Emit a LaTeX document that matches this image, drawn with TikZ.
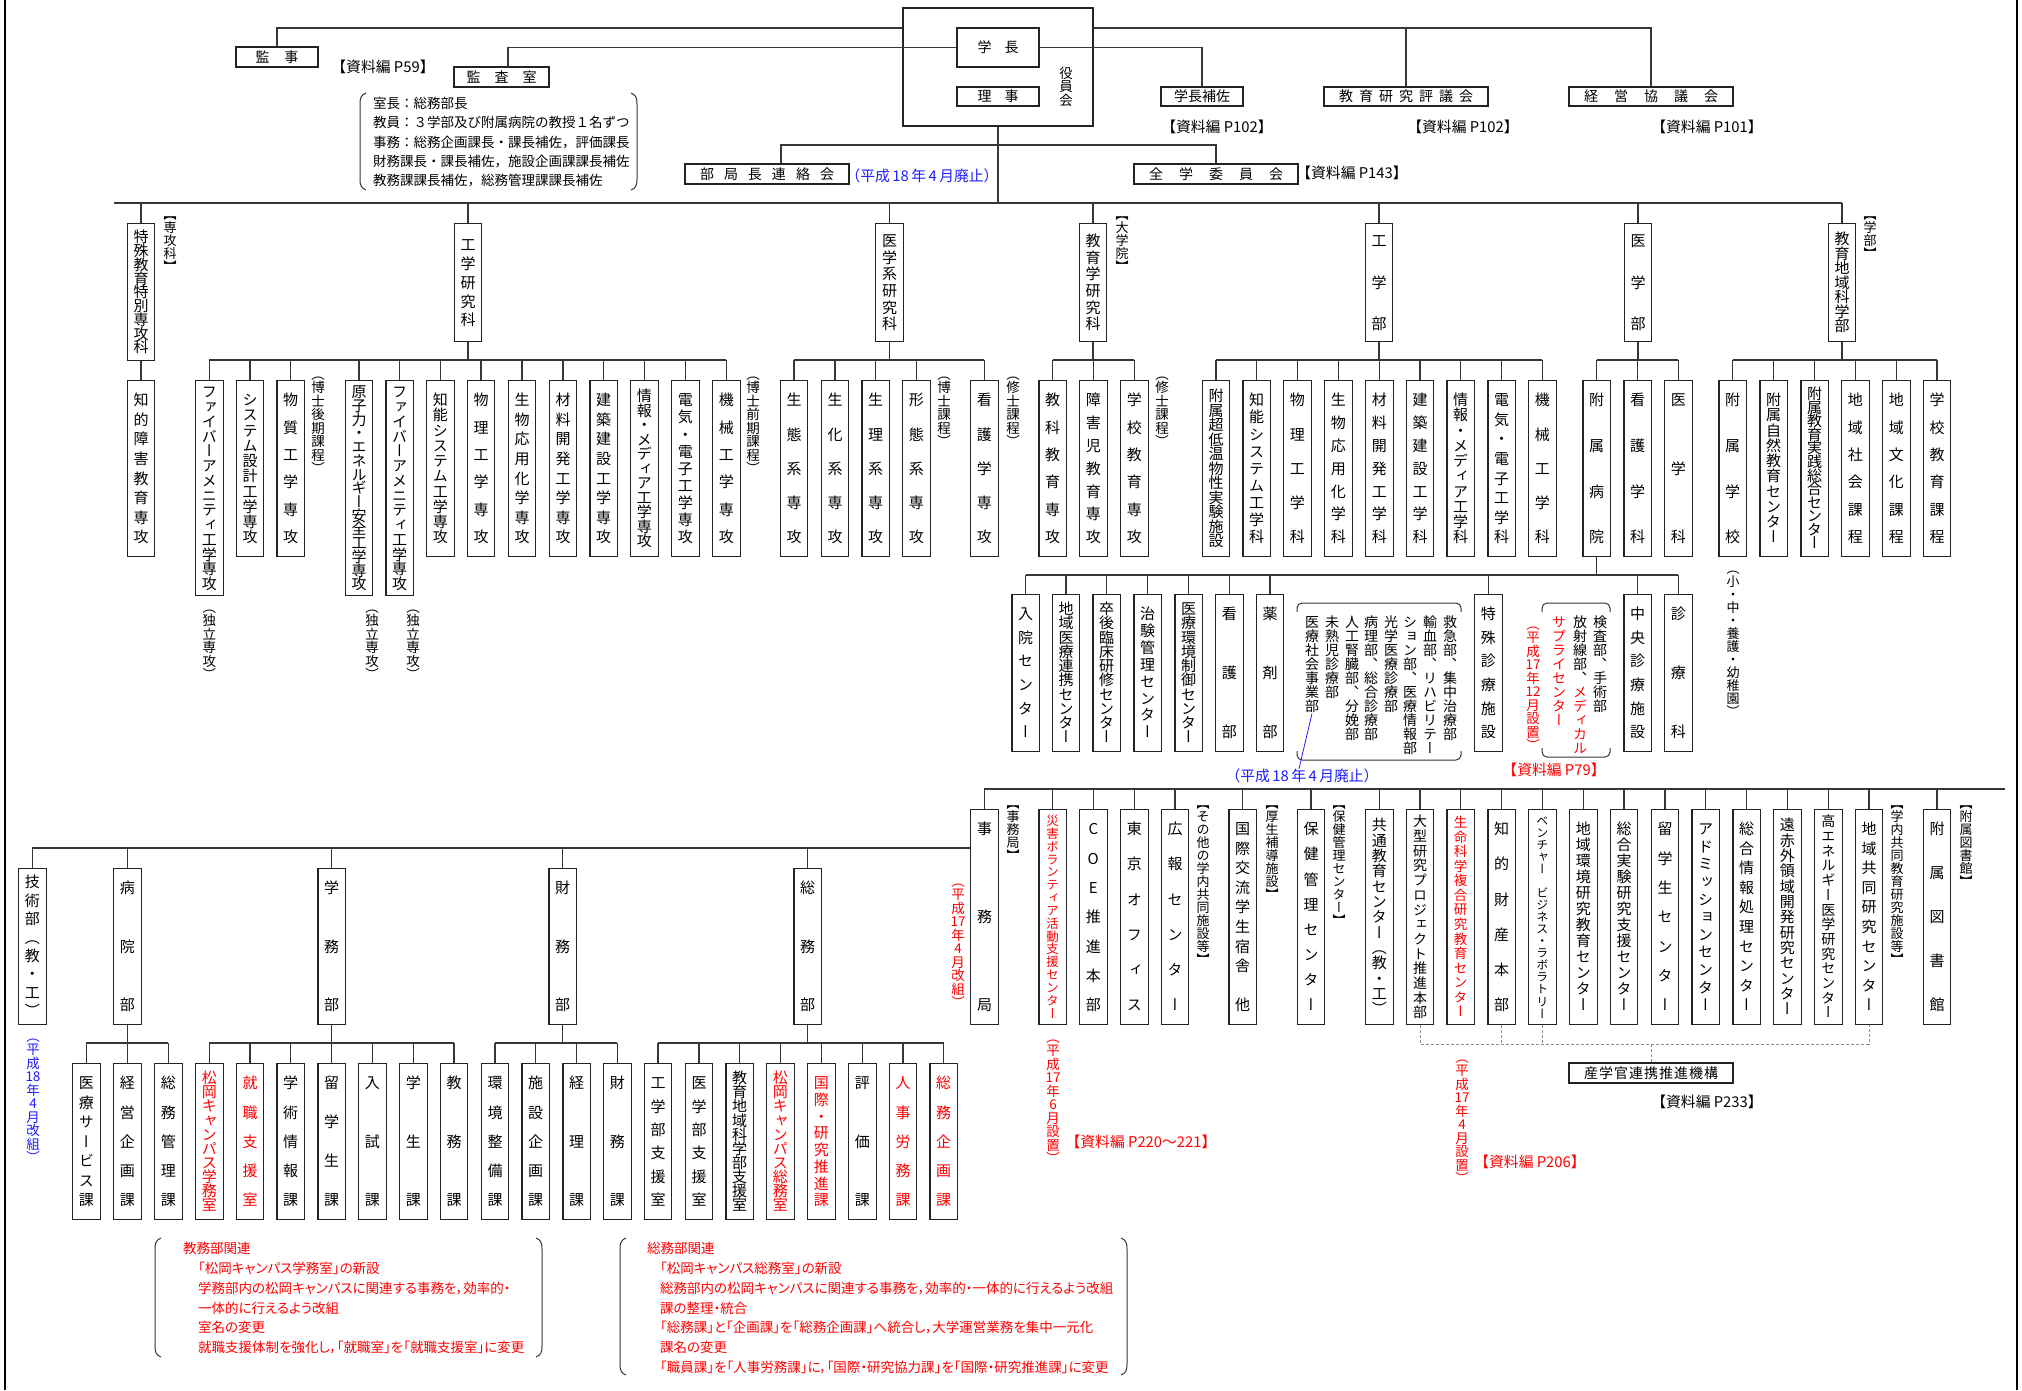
\documentclass[tikz,border=0pt]{standalone}
\usepackage{fontspec}
\setmainfont{Noto Sans CJK JP}
\newfontfamily\vfont[RawFeature=+vert]{Noto Sans CJK JP}
\newfontfamily\pfont[RawFeature=+palt]{Noto Sans CJK JP}
\usetikzlibrary{calc}

\definecolor{redc}{RGB}{255,0,0}
\definecolor{bluec}{RGB}{30,30,255}
\definecolor{linec}{RGB}{55,55,55}
\definecolor{boxc}{RGB}{35,35,35}

\newdimen\vpaddim
\newcommand\vtcell[1]{\hbox to 1em{\hss\vrule height .88em depth .12em width 0pt\smash{#1}\hss}}
\newcommand\vtgap{\vskip 0pt plus 1fill minus 2pt\relax}
\newcommand\R{\color{redc}}

\ExplSyntaxOn
\seq_new:N \l_vt_seq
\NewDocumentCommand \VT { m m } {
  \seq_clear:N \l_vt_seq
  \tl_map_inline:nn {#2} { \seq_put_right:Nn \l_vt_seq { \vtcell {##1} } }
  \vbox_to_ht:nn { #1pt - 2\vpaddim } { \offinterlineskip \seq_use:Nn \l_vt_seq { \vtgap } \kern 0pt }
}
\NewDocumentCommand \VTn { m } {
  \seq_clear:N \l_vt_seq
  \tl_map_inline:nn {#1} { \seq_put_right:Nn \l_vt_seq { \vtcell {##1} } }
  \vbox:n { \offinterlineskip \seq_use:Nn \l_vt_seq { } \kern 0pt }
}
\NewDocumentCommand \HS { m m } {
  \seq_clear:N \l_vt_seq
  \tl_map_inline:nn {#2} { \seq_put_right:Nn \l_vt_seq { ##1 } }
  \seq_use:Nn \l_vt_seq { \hspace{#1} }
}
\ExplSyntaxOff

\tikzset{
  vpad/.code={\vpaddim=#1\relax\pgfkeysalso{inner ysep=#1}},
  fs/.style={font={\vfont\fontsize{#1}{#1}\selectfont}},
  vb/.style={draw=boxc, line width=1.1pt, anchor=north, inner xsep=0pt, minimum width=27.5pt, fs=15, vpad=12pt},
  vl/.style={anchor=north, inner sep=0pt, fs=13.5},
  hb/.style={draw=boxc, line width=1.1pt, inner sep=0pt, minimum height=20pt, font={\fontsize{14}{14}\selectfont}},
  lab/.style={inner sep=0pt, font={\fontsize{14.8}{14.8}\selectfont}},
  note/.style={anchor=north west, inner sep=0pt, align=left, text=redc, font={\pfont\fontsize{13.5}{19.7}\selectfont}},
  conn/.style={draw=linec, line width=1.2pt},
  dsh/.style={draw=black!45, line width=0.8pt, dash pattern=on 3pt off 2pt},
  brk/.style={draw=black!80, line width=1pt},
}

\newcommand\VB[6][]{\node[vb,#1] (#2) at (#3,#4) {\VT{#5}{#6}};}
\newcommand\VL[5][]{\node[vl,#1] (#2) at (#3,#4) {\VTn{#5}};}
\newcommand\lparen[3]{\draw[brk] ({#1+6},{#2}) .. controls ({#1+1},{#2+2}) and ({#1},{#2+5}) .. ({#1},{#2+11}) -- ({#1},{#3-11}) .. controls ({#1},{#3-5}) and ({#1+1},{#3-2}) .. ({#1+6},{#3});}
\newcommand\rparen[3]{\draw[brk] ({#1-6},{#2}) .. controls ({#1-1},{#2+2}) and ({#1},{#2+5}) .. ({#1},{#2+11}) -- ({#1},{#3-11}) .. controls ({#1},{#3-5}) and ({#1-1},{#3-2}) .. ({#1-6},{#3});}

\begin{document}
\begin{tikzpicture}[x=1pt,y=-1pt]
\useasboundingbox (0,0) rectangle (2022,1390);
\draw[line width=2pt] (5,0) -- (5,1390);
\draw[line width=2pt] (2017,0) -- (2017,1390);

\coordinate (busA) at (0,28);
\coordinate (busB) at (0,145);
\coordinate (bus2) at (0,203);
\coordinate (bus2L) at (114,203);
\coordinate (bus3) at (0,360);
\coordinate (bus4) at (0,575);
\coordinate (bus5) at (0,789);
\coordinate (bus5R) at (2005,789);
\coordinate (bus6) at (0,848);
\coordinate (bus7) at (0,1043);
\coordinate (busD) at (0,1044);

% ---------- top ----------
\node[hb, minimum width=190pt, minimum height=118pt] (yakuin) at (998,67) {};
\node[hb, minimum width=82pt, minimum height=39pt] (gakucho) at (998,47.5) {\HS{13pt}{学長}};
\node[hb, minimum width=82pt, minimum height=19pt] (riji) at (998,96.5) {\HS{13pt}{理事}};
\VL{yakuinlab}{1066}{66}{役員会}
\node[hb, minimum width=82pt] (kanji) at (277,57) {\HS{15pt}{監事}};
\node[hb, minimum width=95pt] (kansa) at (501.5,77) {\HS{14pt}{監査室}};
\node[lab] (p59) at (383,67) {【資料編 P59】};
\node[hb, minimum width=82pt, minimum height=19pt] (hosa) at (1202,96.5) {学長補佐};
\node[hb, minimum width=164pt, minimum height=19pt] (hyogi) at (1406,96.5) {\HS{6pt}{教育研究評議会}};
\node[hb, minimum width=164pt, minimum height=19pt] (keiei) at (1651,96.5) {\HS{16pt}{経営協議会}};
\node[lab] (p102a) at (1217,127) {【資料編 P102】};
\node[lab] (p102b) at (1463,127) {【資料編 P102】};
\node[lab] (p101) at (1707,127) {【資料編 P101】};
\node[hb, minimum width=164pt] (bukyoku) at (767,174) {\HS{10pt}{部局長連絡会}};
\node[lab, text=bluec] (haishi1) at (922,176) {（平成\,18\,年\,4\,月廃止）};
\node[hb, minimum width=164pt] (zengaku) at (1216,174) {\HS{16pt}{全学委員会}};
\node[lab] (p143) at (1352,173) {【資料編 P143】};

\node[anchor=north west, inner sep=0pt, align=left, font={\fontsize{13.5}{19.3}\selectfont}] (knote) at (373,97) {室長：総務部長\\教員：３学部及び附属病院の教授１名ずつ\\事務：総務企画課長・課長補佐，評価課長\\財務課長・課長補佐，施設企画課課長補佐\\教務課課長補佐，総務管理課課長補佐};
\lparen{360}{93}{190}
\rparen{637}{93}{190}

% ---------- level 2 ----------
\VB[vpad=6pt]{tok}{141}{223}{137}{特殊教育特別専攻科}
\VB[vpad=14pt]{kken}{468}{223}{118}{工学研究科}
\VB[vpad=10pt]{iken}{889.5}{223}{118}{医学系研究科}
\VB[vpad=10pt]{eken}{1093}{223}{118}{教育学研究科}
\VB[vpad=10pt]{kgb}{1379}{223}{118}{工学部}
\VB[vpad=10pt]{igb}{1638}{223}{118}{医学部}
\VB[vpad=8pt]{egb}{1842}{223}{118}{教育地域科学部}
\VL[fs=13]{lsenkou}{170}{208}{【専攻科】}
\VL[fs=13]{ldaigakuin}{1122}{208}{【大学院】}
\VL[fs=13]{lgakubu}{1870}{208}{【学部】}

% ---------- level 3 ----------
\VB{t1}{141}{380}{176}{知的障害教育専攻}
\VB[vpad=4pt]{k1}{209.3}{380}{215}{ファイバーアメニティ工学専攻}
\VB{k2}{250}{380}{176}{システム設計工学専攻}
\VB{k3}{290.7}{380}{176}{物質工学専攻}
\VB[vpad=4pt]{k4}{359}{380}{215}{原子力・エネルギー安全工学専攻}
\VB[vpad=4pt]{k5}{399.7}{380}{215}{ファイバーアメニティ工学専攻}
\VB{k6}{440.3}{380}{176}{知能システム工学専攻}
\VB{k7}{481}{380}{176}{物理工学専攻}
\VB{k8}{522}{380}{176}{生物応用化学専攻}
\VB{k9}{563}{380}{176}{材料開発工学専攻}
\VB{k10}{603.7}{380}{176}{建築建設工学専攻}
\VB[vpad=8pt]{k11}{644.3}{380}{176}{情報・メディア工学専攻}
\VB{k12}{685.3}{380}{176}{電気・電子工学専攻}
\VB{k13}{726.3}{380}{176}{機械工学専攻}
\VB{m1}{794}{380}{176}{生態系専攻}
\VB{m2}{835}{380}{176}{生化系専攻}
\VB{m3}{875.7}{380}{176}{生理系専攻}
\VB{m4}{916.3}{380}{176}{形態系専攻}
\VB{m5}{984.3}{380}{176}{看護学専攻}
\VB{e1}{1052.7}{380}{176}{教科教育専攻}
\VB{e2}{1093.3}{380}{176}{障害児教育専攻}
\VB{e3}{1134.3}{380}{176}{学校教育専攻}
\VB[vpad=8pt]{g1}{1216}{380}{176}{附属超低温物性実験施設}
\VB{g2}{1256.7}{380}{176}{知能システム工学科}
\VB{g3}{1297.3}{380}{176}{物理工学科}
\VB{g4}{1338.3}{380}{176}{生物応用化学科}
\VB{g5}{1379.3}{380}{176}{材料開発工学科}
\VB{g6}{1420}{380}{176}{建築建設工学科}
\VB{g7}{1460.7}{380}{176}{情報・メディア工学科}
\VB{g8}{1501.7}{380}{176}{電気・電子工学科}
\VB{g9}{1542.3}{380}{176}{機械工学科}
\VB{h1}{1596.7}{380}{176}{附属病院}
\VB{h2}{1637.7}{380}{176}{看護学科}
\VB{h3}{1678.3}{380}{176}{医学科}
\VB{s1}{1732.7}{380}{176}{附属学校}
\VB{s2}{1773.7}{380}{176}{附属自然教育センター}
\VB[vpad=6pt]{s3}{1814.7}{380}{176}{附属教育実践総合センター}
\VB{s4}{1855.3}{380}{176}{地域社会課程}
\VB{s5}{1896.3}{380}{176}{地域文化課程}
\VB{s6}{1937}{380}{176}{学校教育課程}

\VL{lhakukoki}{318}{367}{（博士後期課程）}
\VL{ldok1}{209.3}{600}{（独立専攻）}
\VL{ldok2}{372}{600}{（独立専攻）}
\VL{ldok3}{413}{600}{（独立専攻）}
\VL{lhakuzen}{753}{367}{（博士前期課程）}
\VL{lhaku}{944}{367}{（博士課程）}
\VL{lshu1}{1013}{367}{（修士課程）}
\VL{lshu2}{1162}{367}{（修士課程）}
\VL[fs=13]{lfuzoku}{1733}{562}{（小・中・養護・幼稚園）}

% ---------- level 4 ----------
\VB{b1}{1025.7}{594}{157}{入院センター}
\VB[vpad=7pt]{b2}{1066}{594}{157}{地域医療連携センター}
\VB[vpad=7pt]{b3}{1106.7}{594}{157}{卒後臨床研修センター}
\VB{b4}{1147.7}{594}{157}{治験管理センター}
\VB[vpad=7pt]{b5}{1188.7}{594}{157}{医療環境制御センター}
\VB{b6}{1229.3}{594}{157}{看護部}
\VB{b7}{1270}{594}{157}{薬剤部}
\VB{b8}{1488.3}{594}{157}{特殊診療施設}
\VB{b9}{1637.7}{594}{157}{中央診療施設}
\VB{b10}{1678.3}{594}{157}{診療科}

\VL[fs=14]{gc1}{1450}{615}{救急部、集中治療部}
\VL[fs=14]{gc2}{1430}{615}{輸血部、リハビリテー}
\VL[fs=14]{gc3}{1410}{615}{ション部、医療情報部}
\VL[fs=14]{gc4}{1391}{615}{光学医療診療部}
\VL[fs=14]{gc5}{1371}{615}{病理部、総合診療部}
\VL[fs=14]{gc6}{1352}{615}{人工腎臓部、分娩部}
\VL[fs=14]{gc7}{1332}{615}{未熟児診療部}
\VL[fs=14]{gc8}{1312}{615}{医療社会事業部}
\draw[brk, rounded corners=5pt] (1297,612) -- (1297,603) -- (1461,603) -- (1461,612);
\draw[brk, rounded corners=5pt] (1297,751) -- (1297,760) -- (1461,760) -- (1461,751);
\node[lab, text=bluec] (haishi2) at (1302,776) {（平成\,18\,年\,4\,月廃止）};
\draw[bluec, line width=0.8pt] (gc8.south) -- ([xshift=-3pt]haishi2.north);

\VL[fs=14]{gd1}{1600}{615}{検査部、手術部}
\VL[fs=14]{gd2}{1580}{615}{放射線部、{\R メ}{\R デ}{\R ィ}{\R カ}{\R ル}}
\VL[fs=14, text=redc]{gd3}{1559}{615}{サプライセンター}
\draw[brk, rounded corners=5pt] (1542,612) -- (1542,603) -- (1610,603) -- (1610,612);
\draw[brk, rounded corners=5pt] (1542,748) -- (1542,757) -- (1610,757) -- (1610,748);
\VL[text=redc]{gd4}{1533}{617}{（平成{17}年{12}月設置）}
\node[lab, text=redc] (p79) at (1554,770) {【資料編 P79】};

% ---------- bottom ----------
\VB{jimu}{984.5}{809}{215}{事務局}
\VL[fs=13]{ljimu}{1013}{797}{【事務局】}
\VL[text=redc]{ljimukai}{958}{874}{（平成{17}年{4}月改組）}

\VB[vpad=6pt]{d1}{32.3}{868}{156}{技術部（教・工）}
\VB{d2}{127.3}{868}{156}{病院部}
\VB{d3}{331.7}{868}{156}{学務部}
\VB{d4}{562.7}{868}{156}{財務部}
\VB{d5}{807.7}{868}{156}{総務部}
\VL[text=bluec]{lkaiso}{33}{1029}{（平成{18}年{4}月改組）}

\VB{p1}{86.3}{1063}{156}{医療サービス課}
\VB{p2}{127.3}{1063}{156}{経営企画課}
\VB{p3}{168.3}{1063}{156}{総務管理課}
\VB[vpad=7pt,text=redc]{a1}{209.3}{1063}{156}{松岡キャンパス学務室}
\VB[text=redc]{a2}{250}{1063}{156}{就職支援室}
\VB{a3}{290.7}{1063}{156}{学術情報課}
\VB{a4}{331.7}{1063}{156}{留学生課}
\VB{a5}{372.3}{1063}{156}{入試課}
\VB{a6}{413.3}{1063}{156}{学生課}
\VB{a7}{454}{1063}{156}{教務課}
\VB{f1}{495}{1063}{156}{環境整備課}
\VB{f2}{535.7}{1063}{156}{施設企画課}
\VB{f3}{576.7}{1063}{156}{経理課}
\VB{f4}{617.3}{1063}{156}{財務課}
\VB{o1}{658}{1063}{156}{工学部支援室}
\VB{o2}{699}{1063}{156}{医学部支援室}
\VB[vpad=7pt]{o3}{739.7}{1063}{156}{教育地域科学部支援室}
\VB[vpad=7pt,text=redc]{o4}{780.3}{1063}{156}{松岡キャンパス総務室}
\VB[text=redc]{o5}{821.3}{1063}{156}{国際・研究推進課}
\VB{o6}{862.3}{1063}{156}{評価課}
\VB[text=redc]{o7}{903}{1063}{156}{人事労務課}
\VB[text=redc]{o8}{943.7}{1063}{156}{総務企画課}

\VB[fs=12.5,vpad=5pt,text=redc]{c1}{1052.7}{809}{215}{災害ボランティア活動支援センター}
\VB{c2}{1093.3}{809}{215}{COE推進本部}
\VB{c3}{1134.3}{809}{215}{東京オフィス}
\VB{c4}{1175}{809}{215}{広報センター}
\VB{c5}{1242.7}{809}{215}{国際交流学生宿舎　他}
\VB{c6}{1311}{809}{215}{保健管理センター}
\VB[vpad=8pt]{c7}{1379.3}{809}{215}{共通教育センター（教・工）}
\VB[fs=14,vpad=5pt]{c8}{1420}{809}{215}{大型研究プロジェクト推進本部}
\VB[fs=13.5,vpad=6pt,text=redc]{c9}{1460.7}{809}{215}{生命科学複合研究教育センター}
\VB{c10}{1501.7}{809}{215}{知的財産本部}
\VB[fs=12,vpad=5pt]{c11}{1542.3}{809}{215}{ベンチャー　ビジネス・ラボラトリー}
\VB{c12}{1583.3}{809}{215}{地域環境研究教育センター}
\VB{c13}{1624}{809}{215}{総合実験研究支援センター}
\VB{c14}{1665}{809}{215}{留学生センター}
\VB{c15}{1705.7}{809}{215}{アドミッションセンター}
\VB{c16}{1746.7}{809}{215}{総合情報処理センター}
\VB[vpad=8pt]{c17}{1787.3}{809}{215}{遠赤外領域開発研究センター}
\VB[fs=14,vpad=5pt]{c18}{1828.3}{809}{215}{高エネルギー医学研究センター}
\VB{c19}{1869}{809}{215}{地域共同研究センター}
\VB{c20}{1937}{809}{215}{附属図書館}

\VL[fs=13]{lsonota}{1203}{797}{【その他の学内共同施設等】}
\VL[fs=13]{lkosei}{1272}{797}{【厚生補導施設】}
\VL[fs=13]{lhoken}{1339}{797}{【保健管理センター】}
\VL[fs=13]{lgakunai}{1897}{797}{【学内共同教育研究施設等】}
\VL[fs=13]{ltosho}{1966}{797}{【附属図書館】}
\VL[text=redc]{lsaigai}{1053}{1030}{（平成{17}年{6}月設置）}
\VL[text=redc]{lseimei}{1462}{1050}{（平成{17}年{4}月設置）}
\node[lab,text=redc] (p220) at (1141,1142) {【資料編 P220～221】};
\node[lab,text=redc] (p206) at (1530,1162) {【資料編 P206】};
\node[hb, minimum width=164pt] (sangaku) at (1651,1073) {\HS{1pt}{産学官連携推進機構}};
\node[lab] (p233) at (1707,1102) {【資料編 P233】};

% notes
\node[note] (ln1) at (183,1242) {教務部関連};
\node[note] (ln2) at (198,1262) {「松岡キャンパス学務室」の新設\\学務部内の松岡キャンパスに関連する事務を，効率的・\\一体的に行えるよう改組\\室名の変更\\就職支援体制を強化し，「就職室」を「就職支援室」に変更};
\lparen{155}{1238}{1357}
\rparen{542}{1238}{1357}
\node[note] (rn1) at (647,1242) {総務部関連};
\node[note] (rn2) at (660,1262) {「松岡キャンパス総務室」の新設\\総務部内の松岡キャンパスに関連する事務を，効率的・一体的に行えるよう改組\\課の整理・統合\\「総務課」と「企画課」を「総務企画課」へ統合し，大学運営業務を集中一元化\\課名の変更\\「職員課」を「人事労務課」に，「国際・研究協力課」を「国際・研究推進課」に変更};
\lparen{620}{1238}{1375}
\rparen{1127}{1238}{1375}

% ---------- connectors ----------
\draw[conn] (kanji.north) |- (yakuin.west |- busA);
\draw[conn] (yakuin.east |- busA) -| (keiei.north);
\draw[conn] (hyogi.north) -- (hyogi.north |- busA);
\draw[conn] (gakucho.west) -| ([xshift=6.5pt]kansa.north);
\draw[conn] (gakucho.east) -| (hosa.north);
\draw[conn] ([xshift=14pt]bukyoku.north) |- (zengaku.north |- busB) -- (zengaku.north);
\draw[conn] (yakuin.south) -- (yakuin.south |- bus2);
\draw[conn] (bus2L) -- (egb.north |- bus2);
\foreach \ch in {tok,kken,iken,eken,kgb,igb,egb} \draw[conn] (\ch.north) -- (\ch.north |- bus2);

\draw[conn] (tok.south) -- (t1.north);
\draw[conn] (kken.south) -- (kken.south |- bus3);
\draw[conn] (k1.north |- bus3) -- (k13.north |- bus3);
\foreach \i in {1,...,13} \draw[conn] (k\i.north) -- (k\i.north |- bus3);
\draw[conn] (iken.south) -- (iken.south |- bus3);
\draw[conn] (m1.north |- bus3) -- (m5.north |- bus3);
\foreach \i in {1,...,5} \draw[conn] (m\i.north) -- (m\i.north |- bus3);
\draw[conn] (eken.south) -- (eken.south |- bus3);
\draw[conn] (e1.north |- bus3) -- (e3.north |- bus3);
\foreach \i in {1,...,3} \draw[conn] (e\i.north) -- (e\i.north |- bus3);
\draw[conn] (kgb.south) -- (kgb.south |- bus3);
\draw[conn] (g1.north |- bus3) -- (g9.north |- bus3);
\foreach \i in {1,...,9} \draw[conn] (g\i.north) -- (g\i.north |- bus3);
\draw[conn] (igb.south) -- (igb.south |- bus3);
\draw[conn] (h1.north |- bus3) -- (h3.north |- bus3);
\foreach \i in {1,...,3} \draw[conn] (h\i.north) -- (h\i.north |- bus3);
\draw[conn] (egb.south) -- (egb.south |- bus3);
\draw[conn] (s1.north |- bus3) -- (s6.north |- bus3);
\foreach \i in {1,...,6} \draw[conn] (s\i.north) -- (s\i.north |- bus3);

\draw[conn] (h1.south) -- (h1.south |- bus4);
\draw[conn] (b1.north |- bus4) -- (b10.north |- bus4);
\foreach \i in {1,...,10} \draw[conn] (b\i.north) -- (b\i.north |- bus4);

\draw[conn] (jimu.north) |- (bus5R);
\foreach \i in {1,...,20} \draw[conn] (c\i.north) -- (c\i.north |- bus5);
\draw[conn] (jimu.west |- bus6) -| (d1.north);
\foreach \i in {2,...,5} \draw[conn] (d\i.north) -- (d\i.north |- bus6);
\draw[conn] (d2.south) -- (d2.south |- bus7);
\draw[conn] (p1.north |- bus7) -- (p3.north |- bus7);
\foreach \i in {1,...,3} \draw[conn] (p\i.north) -- (p\i.north |- bus7);
\draw[conn] (d3.south) -- (d3.south |- bus7);
\draw[conn] (a1.north |- bus7) -- (a7.north |- bus7);
\foreach \i in {1,...,7} \draw[conn] (a\i.north) -- (a\i.north |- bus7);
\draw[conn] (d4.south) -- (d4.south |- bus7);
\draw[conn] (f1.north |- bus7) -- (f4.north |- bus7);
\foreach \i in {1,...,4} \draw[conn] (f\i.north) -- (f\i.north |- bus7);
\draw[conn] (d5.south) -- (d5.south |- bus7);
\draw[conn] (o1.north |- bus7) -- (o8.north |- bus7);
\foreach \i in {1,...,8} \draw[conn] (o\i.north) -- (o\i.north |- bus7);

\draw[dsh] (c8.south) |- (c19.south |- busD) -- (c19.south);
\draw[dsh] (c10.south) -- (c10.south |- busD);
\draw[dsh] (c11.south) -- (c11.south |- busD);
\draw[dsh] (sangaku.north) -- (sangaku.north |- busD);
\end{tikzpicture}
\end{document}
